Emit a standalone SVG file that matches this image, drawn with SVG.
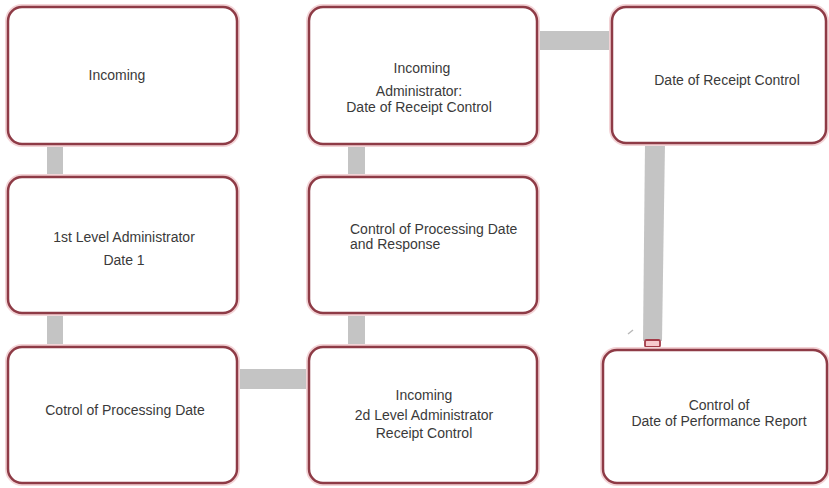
<svg xmlns="http://www.w3.org/2000/svg" width="829" height="488" viewBox="0 0 829 488">
<style>
.box{fill:#ffffff;stroke:#8e3b46;stroke-width:2.5}
.halo{fill:none;stroke:#f3d3d6;stroke-width:6}
.t{font-family:"Liberation Sans",Arial,sans-serif;font-size:14px;fill:#3a3a3a}
.c{text-anchor:middle}
.bar{fill:#c4c4c4}
</style>
<rect width="829" height="488" fill="#ffffff"/>
<g id="connectors">
<rect class="bar" x="47" y="143" width="16" height="35"/>
<rect class="bar" x="47" y="313" width="16" height="35"/>
<rect class="bar" x="348" y="143" width="17" height="35"/>
<rect class="bar" x="348" y="313" width="17" height="35"/>
<rect class="bar" x="237" y="369" width="73" height="20"/>
<rect class="bar" x="537" y="31" width="76" height="19"/>
<polygon class="bar" points="645,143 665,143 662,341 643,341"/>
<rect x="645" y="340" width="15" height="7" rx="1.5" fill="#f6c9cd" stroke="#a33b48" stroke-width="1.8"/>
<line x1="628" y1="334" x2="633" y2="330" stroke="#b8b8b8" stroke-width="1.5"/>
</g>
<g id="n1">
<rect class="halo" x="8" y="7" width="229" height="137" rx="14"/>
<rect class="box" x="8" y="7" width="229" height="137" rx="14"/>
<text class="t c" x="117" y="80">Incoming</text>
</g>
<g id="n2">
<rect class="halo" x="8" y="177" width="229" height="136" rx="14"/>
<rect class="box" x="8" y="177" width="229" height="136" rx="14"/>
<text class="t c" x="124" y="242">1st Level Administrator</text>
<text class="t c" x="124" y="265">Date 1</text>
</g>
<g id="n3">
<rect class="halo" x="8" y="347" width="229" height="136" rx="14"/>
<rect class="box" x="8" y="347" width="229" height="136" rx="14"/>
<text class="t c" x="125" y="415">Cotrol of Processing Date</text>
</g>
<g id="n4">
<rect class="halo" x="309" y="7" width="228" height="137" rx="14"/>
<rect class="box" x="309" y="7" width="228" height="137" rx="14"/>
<text class="t c" x="422" y="73">Incoming</text>
<text class="t c" x="419" y="96">Administrator:</text>
<text class="t c" x="419" y="112">Date of Receipt Control</text>
</g>
<g id="n5">
<rect class="halo" x="309" y="177" width="228" height="136" rx="14"/>
<rect class="box" x="309" y="177" width="228" height="136" rx="14"/>
<text class="t" x="350" y="234">Control of Processing Date</text>
<text class="t" x="350" y="249">and Response</text>
</g>
<g id="n6">
<rect class="halo" x="309" y="347" width="228" height="136" rx="14"/>
<rect class="box" x="309" y="347" width="228" height="136" rx="14"/>
<text class="t c" x="424" y="400">Incoming</text>
<text class="t c" x="424" y="420">2d Level Administrator</text>
<text class="t c" x="424" y="438">Receipt Control</text>
</g>
<g id="n7">
<rect class="halo" x="612" y="7" width="214" height="136" rx="14"/>
<rect class="box" x="612" y="7" width="214" height="136" rx="14"/>
<text class="t c" x="727" y="85">Date of Receipt Control</text>
</g>
<g id="n8">
<rect class="halo" x="603" y="350" width="224" height="133" rx="14"/>
<rect class="box" x="603" y="350" width="224" height="133" rx="14"/>
<text class="t c" x="719" y="410">Control of</text>
<text class="t c" x="719" y="426">Date of Performance Report</text>
</g>
</svg>
